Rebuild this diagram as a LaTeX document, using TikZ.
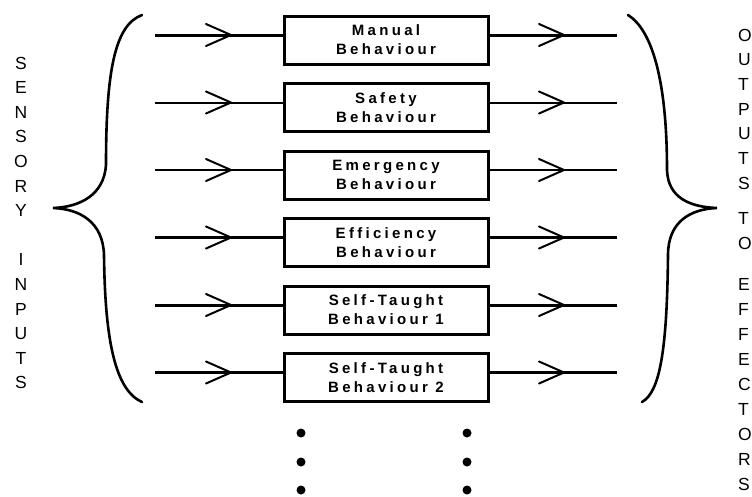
\documentclass[tikz,border=0pt]{standalone}
\usepackage{fontspec}
\setmainfont{Liberation Sans}
\newfontfamily\boxfont[LetterSpace=22,BoldFont={Liberation Sans Bold}]{Liberation Sans}
\usetikzlibrary{decorations.markings}
\tikzset{
  box/.style={draw, line width=3pt, minimum width=204pt, minimum height=48pt,
    inner sep=0pt, outer sep=0pt, align=center,
    font=\boxfont\bfseries\fontsize{15}{19}\selectfont},
  chev/.style={postaction={decorate}, decoration={markings,
    mark=at position 76pt with {\draw[line width=2pt, line join=round, line cap=round]
      (-25pt,-11pt) -- (0pt,0pt) -- (-25pt,11pt);}}},
  heavy/.style={line width=3pt, chev},
  light/.style={line width=2pt, chev},
  side/.style={inner sep=0pt, outer sep=0pt, font=\fontsize{17.5}{20}\selectfont},
  dot/.style={circle, fill, minimum size=9pt, inner sep=0pt},
  brace/.style={line width=2.6pt, line cap=round}
}
\begin{document}
\begin{tikzpicture}[x=1pt, y=-1pt]
\useasboundingbox (0,0) rectangle (752,496);
% boxes
\node[box] (b1) at (386,40)    {Manual\\Behaviour};
\node[box] (b2) at (386,107.5) {Safety\\Behaviour};
\node[box] (b3) at (386,175)   {Emergency\\Behaviour};
\node[box] (b4) at (386,242.5) {Efficiency\\Behaviour};
\node[box] (b5) at (386,310)   {Self-Taught\\Behaviour 1};
\node[box] (b6) at (386,377.5) {Self-Taught\\Behaviour 2};
% free ends
\foreach \i/\y in {1/40,2/107.5,3/175,4/242.5,5/310,6/377.5}{
  \coordinate (inL\i) at (155,\y-5);
  \coordinate (outR\i) at (617,\y-5);
}
% connectors
\foreach \i/\s in {1/heavy,2/light,3/light,4/heavy,5/heavy,6/heavy}{
  \draw[\s] (inL\i) -- ([yshift=5pt]b\i.west);
  \draw[\s] ([yshift=5pt]b\i.east) -- (outR\i);
}
% braces
\draw[brace] (142,15) .. controls (115,25) and (106,70) .. (106,165)
  .. controls (104,195) and (80,207) .. (53,208)
  .. controls (80,209) and (103,222) .. (104,255)
  .. controls (105,340) and (115,390) .. (142,402);
\draw[brace] (628,15) .. controls (652,30) and (667,80) .. (667,170)
  .. controls (668,198) and (690,207) .. (717,208)
  .. controls (690,209) and (668,222) .. (668,255)
  .. controls (667,350) and (660,392) .. (642,402);
% side texts
\foreach \ch [count=\i] in {S,E,N,S,O,R,Y}
  \node[side] (sl\i) at (21,{63+24.6*(\i-1)}) {\ch};
\foreach \ch [count=\i] in {I,N,P,U,T,S}
  \node[side] (il\i) at (21,{259.8+24.6*(\i-1)}) {\ch};
\foreach \ch [count=\i] in {O,U,T,P,U,T,S}
  \node[side, anchor=west] (or\i) at (738,{35+24.67*(\i-1)}) {\ch};
\foreach \ch [count=\i] in {T,O}
  \node[side, anchor=west] (tr\i) at (738,{218+25*(\i-1)}) {\ch};
\foreach \ch [count=\i] in {E,F,F,E,C,T,O,R,S}
  \node[side, anchor=west] (er\i) at (738,{284+25*(\i-1)}) {\ch};
% dots
\foreach \i/\y in {1/433,2/462,3/490}{
  \node[dot] (dl\i) at (301,\y) {};
  \node[dot] (dr\i) at (467,\y) {};
}
\end{tikzpicture}
\end{document}
